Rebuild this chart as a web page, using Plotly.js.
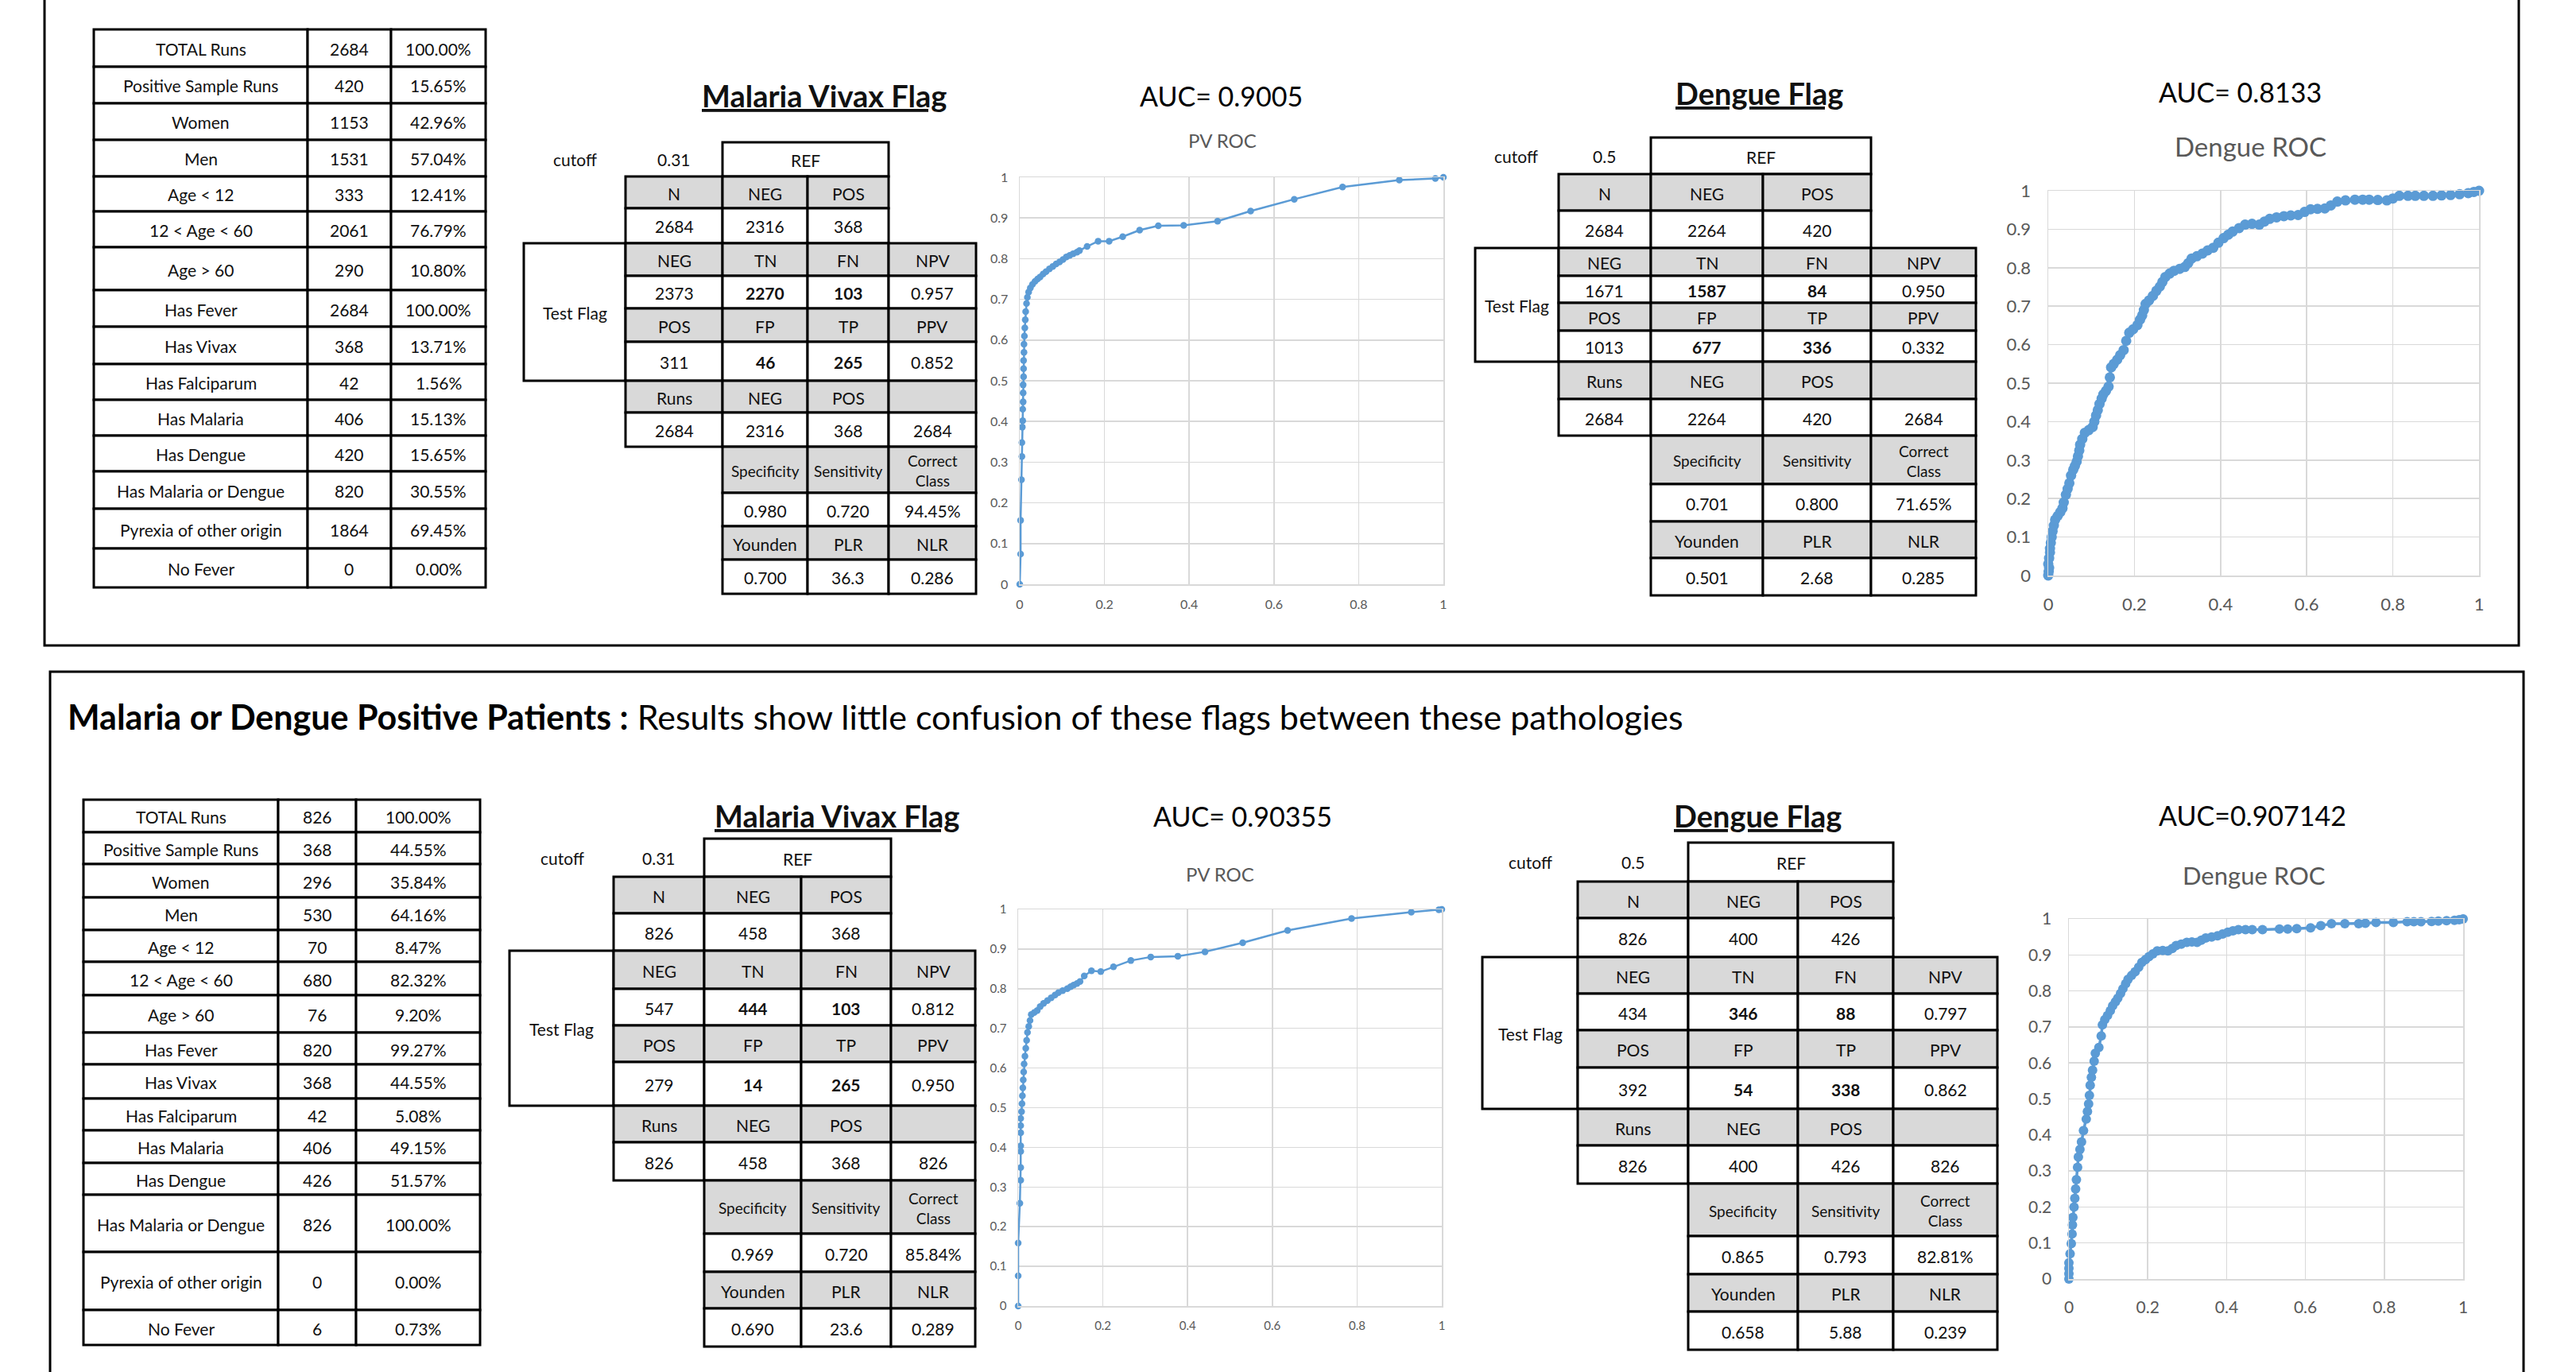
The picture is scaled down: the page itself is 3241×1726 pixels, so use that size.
<!DOCTYPE html>
<html><head><meta charset="utf-8">
<script src="https://cdn.plot.ly/plotly-3.0.1.min.js"></script>
<style>html,body{margin:0;padding:0;background:#fff;} #chart{width:3241px;height:1726px;}</style>
</head><body><div id="chart"></div>
<script>
// ================= DATA =================
const summaryLabels = ['TOTAL Runs','Positive Sample Runs','Women','Men','Age &lt; 12','12 &lt; Age &lt; 60','Age &gt; 60','Has Fever','Has Vivax','Has Falciparum','Has Malaria','Has Dengue','Has Malaria or Dengue','Pyrexia of other origin','No Fever'];
const summaryCountsAll = ['2684','420','1153','1531','333','2061','290','2684','368','42','406','420','820','1864','0'];
const summaryPctAll = ['100.00%','15.65%','42.96%','57.04%','12.41%','76.79%','10.80%','100.00%','13.71%','1.56%','15.13%','15.65%','30.55%','69.45%','0.00%'];
const summaryCountsPos = ['826','368','296','530','70','680','76','820','368','42','406','426','826','0','6'];
const summaryPctPos = ['100.00%','44.55%','35.84%','64.16%','8.47%','82.32%','9.20%','99.27%','44.55%','5.08%','49.15%','51.57%','100.00%','0.00%','0.73%'];

const refHeader = ['N','NEG','POS'];
const negHeader = ['NEG','TN','FN','NPV'];
const posHeader = ['POS','FP','TP','PPV'];
const runsHeader = ['Runs','NEG','POS',''];
const perfHeader = ['Specificity','Sensitivity','Correct<br>Class'];
const idxHeader = ['Younden','PLR','NLR'];

// Malaria Vivax flag - all runs
const mvAllCutoff = '0.31';
const mvAllRef = ['2684','2316','368'];
const mvAllNeg = ['2373','2270','103','0.957'];
const mvAllPos = ['311','46','265','0.852'];
const mvAllRuns = ['2684','2316','368','2684'];
const mvAllPerf = ['0.980','0.720','94.45%'];
const mvAllIdx = ['0.700','36.3','0.286'];
// Dengue flag - all runs
const dgAllCutoff = '0.5';
const dgAllRef = ['2684','2264','420'];
const dgAllNeg = ['1671','1587','84','0.950'];
const dgAllPos = ['1013','677','336','0.332'];
const dgAllRuns = ['2684','2264','420','2684'];
const dgAllPerf = ['0.701','0.800','71.65%'];
const dgAllIdx = ['0.501','2.68','0.285'];
// Malaria Vivax flag - positive patients
const mvPosCutoff = '0.31';
const mvPosRef = ['826','458','368'];
const mvPosNeg = ['547','444','103','0.812'];
const mvPosPos = ['279','14','265','0.950'];
const mvPosRuns = ['826','458','368','826'];
const mvPosPerf = ['0.969','0.720','85.84%'];
const mvPosIdx = ['0.690','23.6','0.289'];
// Dengue flag - positive patients
const dgPosCutoff = '0.5';
const dgPosRef = ['826','400','426'];
const dgPosNeg = ['434','346','88','0.797'];
const dgPosPos = ['392','54','338','0.862'];
const dgPosRuns = ['826','400','426','826'];
const dgPosPerf = ['0.865','0.793','82.81%'];
const dgPosIdx = ['0.658','5.88','0.239'];

// ROC curves: [false positive rate, true positive rate]
const pvRocAll = [[0,0],[0.002,0.074],[0.002,0.157],[0.004,0.257],[0.005,0.314],[0.005,0.348],[0.006,0.386],[0.007,0.402],[0.007,0.43],[0.008,0.448],[0.008,0.47],[0.008,0.49],[0.009,0.51],[0.009,0.53],[0.009,0.55],[0.010,0.57],[0.010,0.59],[0.011,0.61],[0.012,0.63],[0.013,0.65],[0.014,0.67],[0.016,0.69],[0.018,0.705],[0.021,0.718],[0.025,0.728],[0.030,0.737],[0.036,0.744],[0.042,0.75],[0.048,0.755],[0.055,0.762],[0.062,0.768],[0.070,0.775],[0.078,0.781],[0.086,0.787],[0.094,0.792],[0.102,0.798],[0.110,0.804],[0.118,0.808],[0.126,0.812],[0.135,0.816],[0.141,0.82],[0.159,0.83],[0.185,0.843],[0.211,0.843],[0.243,0.854],[0.283,0.87],[0.327,0.881],[0.387,0.882],[0.467,0.892],[0.545,0.917],[0.648,0.946],[0.762,0.976],[0.896,0.993],[0.981,0.997],[1,1]];
const dgRocAll = [[0,0],[0.001,0.01],[0.002,0.02],[0,0.03],[0.002,0.045],[0.004,0.06],[0.004,0.07],[0.006,0.085],[0.008,0.1],[0.010,0.115],[0.013,0.13],[0.016,0.145],[0.022,0.155],[0.028,0.165],[0.033,0.175],[0.036,0.19],[0.041,0.21],[0.045,0.225],[0.049,0.24],[0.053,0.26],[0.058,0.275],[0.062,0.285],[0.066,0.296],[0.069,0.31],[0.072,0.325],[0.074,0.34],[0.079,0.355],[0.085,0.371],[0.094,0.378],[0.103,0.386],[0.107,0.4],[0.111,0.416],[0.115,0.43],[0.119,0.446],[0.124,0.46],[0.128,0.471],[0.134,0.48],[0.140,0.491],[0.143,0.515],[0.146,0.541],[0.152,0.55],[0.160,0.561],[0.167,0.573],[0.175,0.586],[0.181,0.61],[0.188,0.631],[0.197,0.64],[0.207,0.651],[0.213,0.665],[0.218,0.676],[0.222,0.69],[0.226,0.706],[0.234,0.715],[0.243,0.727],[0.251,0.74],[0.259,0.751],[0.265,0.763],[0.272,0.776],[0.282,0.785],[0.292,0.792],[0.305,0.797],[0.317,0.802],[0.325,0.812],[0.333,0.824],[0.345,0.83],[0.358,0.837],[0.37,0.845],[0.383,0.852],[0.395,0.865],[0.407,0.877],[0.418,0.886],[0.428,0.894],[0.443,0.903],[0.457,0.912],[0.473,0.914],[0.49,0.912],[0.502,0.92],[0.514,0.927],[0.53,0.931],[0.547,0.934],[0.563,0.936],[0.58,0.937],[0.595,0.945],[0.609,0.952],[0.625,0.953],[0.642,0.954],[0.656,0.962],[0.671,0.972],[0.69,0.975],[0.712,0.977],[0.73,0.977],[0.745,0.977],[0.765,0.976],[0.786,0.975],[0.80,0.98],[0.815,0.987],[0.835,0.987],[0.852,0.987],[0.872,0.987],[0.893,0.987],[0.913,0.988],[0.934,0.989],[0.955,0.991],[0.975,0.994],[0.988,0.997],[1,1]];
const pvRocPos = [[0,0],[0,0.076],[0,0.159],[0.004,0.259],[0.006,0.317],[0.006,0.349],[0.006,0.39],[0.006,0.404],[0.006,0.437],[0.006,0.455],[0.006,0.473],[0.008,0.49],[0.009,0.51],[0.010,0.53],[0.011,0.55],[0.012,0.57],[0.013,0.59],[0.014,0.61],[0.016,0.63],[0.018,0.65],[0.020,0.67],[0.022,0.69],[0.025,0.705],[0.028,0.72],[0.031,0.735],[0.038,0.74],[0.045,0.745],[0.052,0.755],[0.060,0.763],[0.069,0.77],[0.078,0.777],[0.087,0.784],[0.095,0.79],[0.105,0.795],[0.116,0.8],[0.124,0.805],[0.131,0.809],[0.139,0.813],[0.146,0.818],[0.156,0.832],[0.173,0.845],[0.195,0.843],[0.225,0.855],[0.266,0.871],[0.313,0.88],[0.377,0.882],[0.441,0.893],[0.53,0.916],[0.636,0.947],[0.787,0.977],[0.928,0.993],[0.993,0.999],[1,1]];
const dgRocPos = [[0,0],[0,0.015],[0,0.03],[0,0.045],[0.003,0.07],[0.006,0.098],[0.008,0.125],[0.009,0.15],[0.01,0.171],[0.013,0.2],[0.015,0.224],[0.017,0.25],[0.019,0.276],[0.022,0.31],[0.024,0.339],[0.028,0.36],[0.032,0.381],[0.037,0.412],[0.044,0.444],[0.047,0.465],[0.05,0.486],[0.052,0.51],[0.054,0.538],[0.057,0.56],[0.06,0.58],[0.064,0.605],[0.067,0.627],[0.076,0.643],[0.082,0.675],[0.085,0.706],[0.091,0.72],[0.098,0.732],[0.105,0.745],[0.111,0.759],[0.118,0.77],[0.124,0.78],[0.131,0.793],[0.137,0.806],[0.144,0.82],[0.15,0.832],[0.159,0.843],[0.168,0.853],[0.177,0.866],[0.185,0.879],[0.194,0.887],[0.203,0.895],[0.213,0.903],[0.224,0.911],[0.238,0.912],[0.251,0.911],[0.262,0.918],[0.272,0.926],[0.285,0.93],[0.299,0.935],[0.312,0.936],[0.325,0.935],[0.336,0.941],[0.347,0.947],[0.362,0.95],[0.377,0.953],[0.39,0.958],[0.403,0.963],[0.416,0.967],[0.43,0.97],[0.448,0.97],[0.465,0.97],[0.491,0.97],[0.534,0.972],[0.555,0.972],[0.578,0.973],[0.613,0.975],[0.639,0.981],[0.666,0.987],[0.7,0.987],[0.735,0.987],[0.752,0.988],[0.779,0.99],[0.823,0.99],[0.858,0.992],[0.875,0.992],[0.893,0.992],[0.92,0.993],[0.937,0.994],[0.958,0.995],[0.978,0.996],[0.99,0.998],[1,1]];

const aucLabels = ['AUC= 0.9005','AUC= 0.8133','AUC= 0.90355','AUC=0.907142'];
const rocTitles = ['PV ROC','Dengue ROC','PV ROC','Dengue ROC'];
const flagTitles = ['Malaria Vivax Flag','Dengue Flag'];
const headerBold = 'Malaria or Dengue Positive Patients :';
const headerText = ' Results show little confusion of these flags between these pathologies';

// ================= LAYOUT HELPERS =================
const W = 3241, H = 1726;
const FONT = 'Lato, "Open Sans", sans-serif';
const GRAY = '#d9d9d9';
const CELL_FS = 21;
const px = x => x / W, py = y => 1 - y / H;
const shapes = [], annotations = [];

function box(x0, y0, x1, y1, fill, lw) {
  shapes.push({type:'rect', xref:'paper', yref:'paper', layer:'below',
    x0:px(x0), x1:px(x1), y0:py(y1), y1:py(y0),
    fillcolor: fill || 'rgba(0,0,0,0)', line:{color:'#000', width: lw == null ? 3 : lw}});
}
function txt(x, y, t, size, o) {
  o = o || {};
  annotations.push({xref:'paper', yref:'paper', x:px(x), y:py(y), text:t, showarrow:false,
    xanchor:o.xa || 'center', yanchor:'middle', align:'center',
    font:{family:FONT, size:size, color:o.color || '#111', weight:o.bold ? 700 : 400}});
}
function cell(x0, y0, x1, y1, fill, t, size, bold) {
  box(x0, y0, x1, y1, fill);
  if (t !== '' && t != null) txt((x0 + x1) / 2, (y0 + y1) / 2 + 1, t, size || CELL_FS, {bold:bold});
}

function drawSummary(g, counts, pcts) {
  const C = g.cols, R = g.rows;
  for (let i = 0; i < summaryLabels.length; i++) {
    cell(C[0], R[i], C[1], R[i+1], '#fff', summaryLabels[i], CELL_FS);
    cell(C[1], R[i], C[2], R[i+1], '#fff', counts[i], CELL_FS);
    cell(C[2], R[i], C[3], R[i+1], '#fff', pcts[i], CELL_FS);
  }
}

function drawConf(g, title, d) {
  const C = g.cols, R = g.rows;
  txt(g.title[0], g.title[1], '<u>' + title + '</u>', 38, {bold:true});
  const rc = (R[0] + R[1]) / 2;
  txt(g.cutX, rc, 'cutoff', CELL_FS);
  txt((C[1] + C[2]) / 2, rc, d.cutoff, CELL_FS);
  cell(C[2], R[0], C[4], R[1], '#fff', 'REF', CELL_FS);
  cell(C[0], R[3], C[1], R[7], '#fff', 'Test Flag', CELL_FS);
  const row = (r, c0, vals, fill, boldMask, size) => {
    vals.forEach((v, k) => cell(C[c0+k], R[r], C[c0+k+1], R[r+1], fill, v, size || CELL_FS, boldMask ? boldMask[k] : false));
  };
  const bm = [false, true, true, false];
  row(1, 1, refHeader, GRAY);
  row(2, 1, d.ref, '#fff');
  row(3, 1, negHeader, GRAY);
  row(4, 1, d.neg, '#fff', bm);
  row(5, 1, posHeader, GRAY);
  row(6, 1, d.pos, '#fff', bm);
  row(7, 1, runsHeader, GRAY);
  row(8, 1, d.runs, '#fff');
  row(9, 2, perfHeader, GRAY, null, 19);
  row(10, 2, d.perf, '#fff');
  row(11, 2, idxHeader, GRAY);
  row(12, 2, d.idx, '#fff');
}

// ---------- geometry (pixels) ----------
const geo = {
  sumAll: {cols:[118,387,492,611], rows:[37,84,130,176,222,266,311,365,411,458,503,548,593,640,690,739]},
  sumPos: {cols:[105,350,448,604], rows:[1006,1047,1087,1129,1170,1210,1252,1299,1339,1382,1422,1463,1503,1575,1648,1692]},
  mvAll: {cols:[659,787,909,1016,1118,1228], rows:[179,222,262,306,347,388,430,479,519,562,620,662,704,747], cutX:723, title:[1037,120]},
  dgAll: {cols:[1856,1961,2077,2218,2354,2486], rows:[173,219,265,312,347,381,416,455,502,548,609,656,702,749], cutX:1907, title:[2213,117]},
  mvPos: {cols:[641,772,886,1008,1121,1227], rows:[1055,1103,1149,1196,1244,1290,1336,1391,1437,1485,1552,1600,1646,1694], cutX:707, title:[1053,1026]},
  dgPos: {cols:[1865,1985,2124,2262,2382,2513], rows:[1060,1109,1155,1204,1250,1296,1343,1395,1441,1489,1555,1603,1650,1698], cutX:1925, title:[2211,1026]}
};

// panel frames
box(56, -10, 3169, 812, null, 3);
box(63, 845, 3175, 1760, null, 3);
// bottom header
annotations.push({xref:'paper', yref:'paper', x:px(83), y:py(901), xanchor:'left', yanchor:'middle', showarrow:false,
  text:'<b>' + headerBold + '</b>' + headerText, font:{family:FONT, size:43, color:'#000'}});

drawSummary(geo.sumAll, summaryCountsAll, summaryPctAll);
drawSummary(geo.sumPos, summaryCountsPos, summaryPctPos);
drawConf(geo.mvAll, flagTitles[0], {cutoff:mvAllCutoff, ref:mvAllRef, neg:mvAllNeg, pos:mvAllPos, runs:mvAllRuns, perf:mvAllPerf, idx:mvAllIdx});
drawConf(geo.dgAll, flagTitles[1], {cutoff:dgAllCutoff, ref:dgAllRef, neg:dgAllNeg, pos:dgAllPos, runs:dgAllRuns, perf:dgAllPerf, idx:dgAllIdx});
drawConf(geo.mvPos, flagTitles[0], {cutoff:mvPosCutoff, ref:mvPosRef, neg:mvPosNeg, pos:mvPosPos, runs:mvPosRuns, perf:mvPosPerf, idx:mvPosIdx});
drawConf(geo.dgPos, flagTitles[1], {cutoff:dgPosCutoff, ref:dgPosRef, neg:dgPosNeg, pos:dgPosPos, runs:dgPosRuns, perf:dgPosPerf, idx:dgPosIdx});

// ---------- ROC subplots ----------
const rocs = [
  {pts:pvRocAll, xd:[1283,1816], yd:[223,735], ms:8.5, lw:2.5, tf:16, so:10, auc:[1536,120], sub:[1538,177], subSize:24},
  {pts:dgRocAll, xd:[2577,3119], yd:[240,724], ms:13, lw:3.5, tf:22, so:16, auc:[2818,116], sub:[2831,184], subSize:33},
  {pts:pvRocPos, xd:[1281,1814], yd:[1144,1643], ms:8.5, lw:2.5, tf:15, so:10, auc:[1563,1026], sub:[1535,1099], subSize:24},
  {pts:dgRocPos, xd:[2603,3099], yd:[1156,1609], ms:12, lw:3.5, tf:21, so:16, auc:[2834,1025], sub:[2836,1101], subSize:31}
];
const traces = [];
const layout = {
  width:W, height:H, margin:{l:0, r:0, t:0, b:0, pad:0},
  paper_bgcolor:'#fff', plot_bgcolor:'#fff', showlegend:false,
  font:{family:FONT}, shapes:shapes, annotations:annotations
};
rocs.forEach((r, i) => {
  const n = i === 0 ? '' : String(i + 1);
  const axCommon = {range:[0,1], autorange:false, showgrid:true, gridcolor:GRAY, gridwidth:1.5, zeroline:false,
    showline:true, linecolor:GRAY, linewidth:1.5, mirror:true, ticks:'', fixedrange:true,
    tickfont:{family:FONT, size:r.tf, color:'#595959'}, ticklabelstandoff:r.so, tick0:0};
  layout['xaxis' + n] = Object.assign({}, axCommon, {domain:[px(r.xd[0]), px(r.xd[1])], anchor:'y' + n, dtick:0.2});
  layout['yaxis' + n] = Object.assign({}, axCommon, {domain:[py(r.yd[1]), py(r.yd[0])], anchor:'x' + n, dtick:0.1});
  traces.push({type:'scatter', mode:'lines+markers', x:r.pts.map(p => p[0]), y:r.pts.map(p => p[1]),
    xaxis:'x' + n, yaxis:'y' + n, cliponaxis:false, hoverinfo:'skip',
    line:{color:'#5b9bd5', width:r.lw}, marker:{color:'#5b9bd5', size:r.ms}});
  txt(r.auc[0], r.auc[1], aucLabels[i], 34, {color:'#000'});
  txt(r.sub[0], r.sub[1], rocTitles[i], r.subSize, {color:'#595959'});
});

Plotly.newPlot('chart', traces, layout, {staticPlot:true, displayModeBar:false});
</script>
</body></html>
